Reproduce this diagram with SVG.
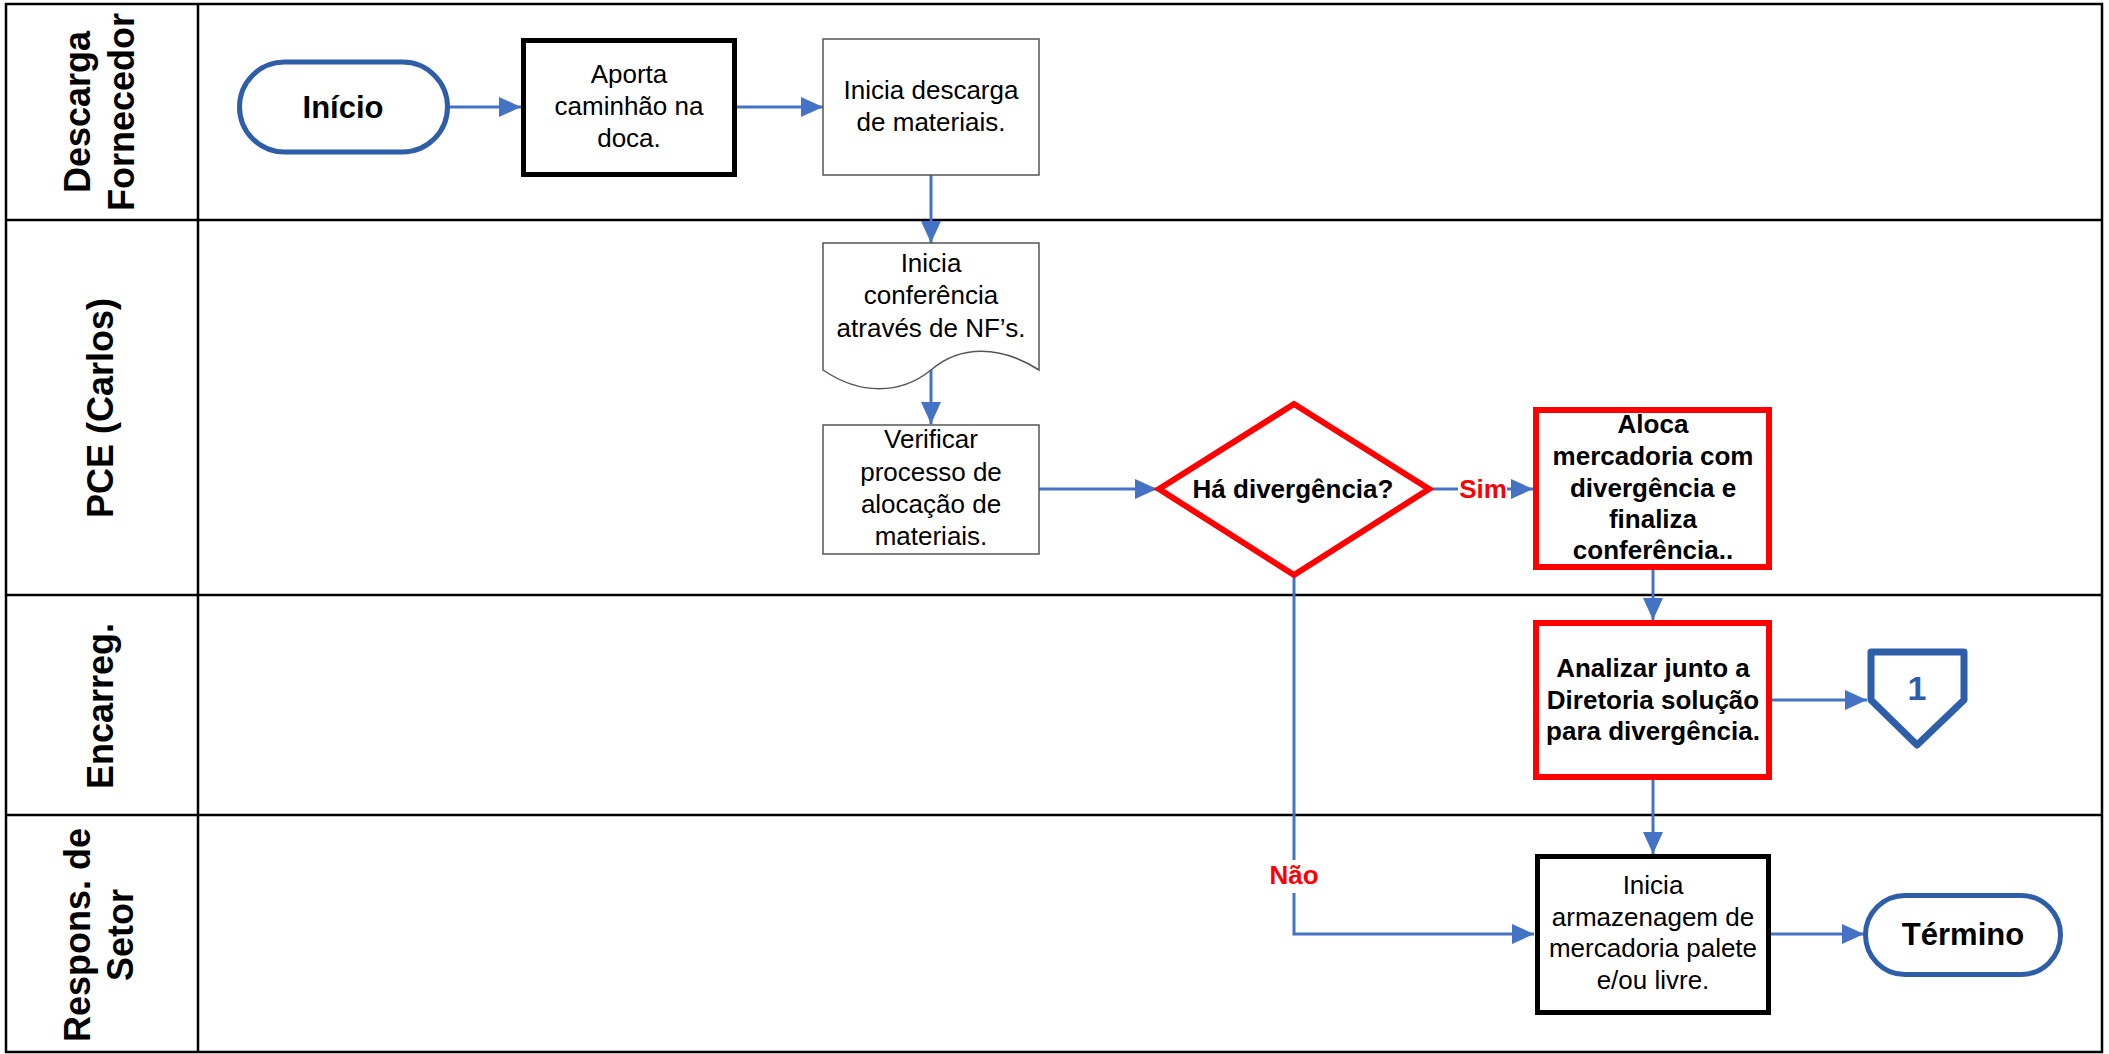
<svg xmlns="http://www.w3.org/2000/svg" width="2109" height="1054" viewBox="0 0 2109 1054">
<style>
.lane{fill:none;stroke:#000;stroke-width:2.5}
.lbl{font-family:"Liberation Sans",Arial,sans-serif;font-weight:bold;font-size:36px;fill:#000;text-anchor:middle}
.t{font-family:"Liberation Sans",Arial,sans-serif;font-size:26px;fill:#000;text-anchor:middle}
.tb{font-family:"Liberation Sans",Arial,sans-serif;font-size:26px;font-weight:bold;fill:#000;text-anchor:middle}
.term{fill:#fff;stroke:#2E5EA8;stroke-width:5}
.termt{font-family:"Liberation Sans",Arial,sans-serif;font-size:31px;font-weight:bold;fill:#000;text-anchor:middle}
.proc{fill:#fff;stroke:#555;stroke-width:1.5}
.procb{fill:#fff;stroke:#000;stroke-width:5}
.red{fill:#fff;stroke:#FF0000;stroke-width:6}
.c{fill:none;stroke:#4472C4;stroke-width:3}
.lab{font-family:"Liberation Sans",Arial,sans-serif;font-size:26px;font-weight:bold;fill:#FF0000;text-anchor:middle}
</style>
<defs>
<marker id="ah" markerUnits="userSpaceOnUse" markerWidth="22" markerHeight="20" refX="22" refY="10" orient="auto">
<path d="M0,0 L22,10 L0,20 Z" fill="#4472C4"/>
</marker>
</defs>
<rect x="0" y="0" width="2109" height="1054" fill="#fff"/>
<g id="lanes">
<rect class="lane" x="6" y="4" width="2096" height="1048"/>
<line class="lane" x1="198" y1="4" x2="198" y2="1052"/>
<line class="lane" x1="6" y1="220" x2="2102" y2="220"/>
<line class="lane" x1="6" y1="595" x2="2102" y2="595"/>
<line class="lane" x1="6" y1="815" x2="2102" y2="815"/>
<text class="lbl" transform="translate(90,112) rotate(-90)">Descarga</text>
<text class="lbl" transform="translate(134,112) rotate(-90)">Fornecedor</text>
<text class="lbl" transform="translate(113,408) rotate(-90)">PCE (Carlos)</text>
<text class="lbl" transform="translate(113,706) rotate(-90)">Encarreg.</text>
<text class="lbl" transform="translate(90,935) rotate(-90)">Respons. de</text>
<text class="lbl" transform="translate(133,935) rotate(-90)">Setor</text>
</g>
<g id="connectors">
<line class="c" x1="449" y1="107" x2="521" y2="107" marker-end="url(#ah)"/>
<line class="c" x1="737" y1="107" x2="823" y2="107" marker-end="url(#ah)"/>
<line class="c" x1="931" y1="175" x2="931" y2="243" marker-end="url(#ah)"/>
<line class="c" x1="931" y1="370" x2="931" y2="424" marker-end="url(#ah)"/>
<line class="c" x1="1039" y1="489" x2="1157" y2="489" marker-end="url(#ah)"/>
<line class="c" x1="1430" y1="489" x2="1458" y2="489"/>
<line class="c" x1="1507" y1="489" x2="1533" y2="489" marker-end="url(#ah)"/>
<line class="c" x1="1653" y1="570" x2="1653" y2="620" marker-end="url(#ah)"/>
<line class="c" x1="1771" y1="700" x2="1867" y2="700" marker-end="url(#ah)"/>
<line class="c" x1="1653" y1="780" x2="1653" y2="854" marker-end="url(#ah)"/>
<polyline class="c" points="1294,575 1294,860"/>
<polyline class="c" points="1294,893 1294,934 1534,934" marker-end="url(#ah)"/>
<line class="c" x1="1771" y1="934" x2="1864" y2="934" marker-end="url(#ah)"/>
<text class="lab" x="1483" y="498">Sim</text>
<text class="lab" x="1294" y="884">Não</text>
</g>
<g id="inicio">
<rect class="term" x="239.5" y="62" width="208" height="90" rx="45"/>
<text class="termt" x="343" y="118">Início</text>
</g>
<g id="aporta">
<rect class="procb" x="523.5" y="40.5" width="211" height="134"/>
<text class="t" x="629" y="83">Aporta</text>
<text class="t" x="629" y="115">caminhão na</text>
<text class="t" x="629" y="147">doca.</text>
</g>
<g id="descarga">
<rect class="proc" x="823" y="39" width="216" height="136"/>
<text class="t" x="931" y="99">Inicia descarga</text>
<text class="t" x="931" y="131">de materiais.</text>
</g>
<g id="conferencia">
<path class="proc" d="M823,243 H1039 V370 C1000,345 960,345 931,370 C900,395 860,395 823,370 Z"/>
<text class="t" x="931" y="272">Inicia</text>
<text class="t" x="931" y="304">conferência</text>
<text class="t" x="931" y="337">através de NF’s.</text>
</g>
<g id="verificar">
<rect class="proc" x="823" y="425" width="216" height="129"/>
<text class="t" x="931" y="448">Verificar</text>
<text class="t" x="931" y="481">processo de</text>
<text class="t" x="931" y="513">alocação de</text>
<text class="t" x="931" y="545">materiais.</text>
</g>
<g id="decisao">
<polygon class="red" points="1294,404 1429,489 1294,575 1159,489"/>
<text class="tb" x="1293" y="498">Há divergência?</text>
</g>
<g id="aloca">
<rect class="red" x="1536" y="410" width="233" height="157"/>
<text class="tb" x="1653" y="433">Aloca</text>
<text class="tb" x="1653" y="465">mercadoria com</text>
<text class="tb" x="1653" y="497">divergência e</text>
<text class="tb" x="1653" y="528">finaliza</text>
<text class="tb" x="1653" y="559">conferência..</text>
</g>
<g id="analizar">
<rect class="red" x="1536" y="623" width="233" height="154"/>
<text class="tb" x="1653" y="677">Analizar junto a</text>
<text class="tb" x="1653" y="709">Diretoria solução</text>
<text class="tb" x="1653" y="740">para divergência.</text>
</g>
<g id="conector1">
<polygon points="1871,652 1964,652 1964,700 1917,745 1871,700" fill="#fff" stroke="#2E5EA8" stroke-width="7" stroke-linejoin="round"/>
<text x="1917" y="700" font-family="Liberation Sans, Arial, sans-serif" font-size="34" font-weight="bold" fill="#2E5EA8" text-anchor="middle">1</text>
</g>
<g id="armazenagem">
<rect class="procb" x="1537.5" y="856.5" width="231" height="156"/>
<text class="t" x="1653" y="894">Inicia</text>
<text class="t" x="1653" y="926">armazenagem de</text>
<text class="t" x="1653" y="957">mercadoria palete</text>
<text class="t" x="1653" y="989">e/ou livre.</text>
</g>
<g id="termino">
<rect class="term" x="1865.5" y="895.5" width="195" height="79" rx="39.5"/>
<text class="termt" x="1963" y="945">Término</text>
</g>
</svg>
